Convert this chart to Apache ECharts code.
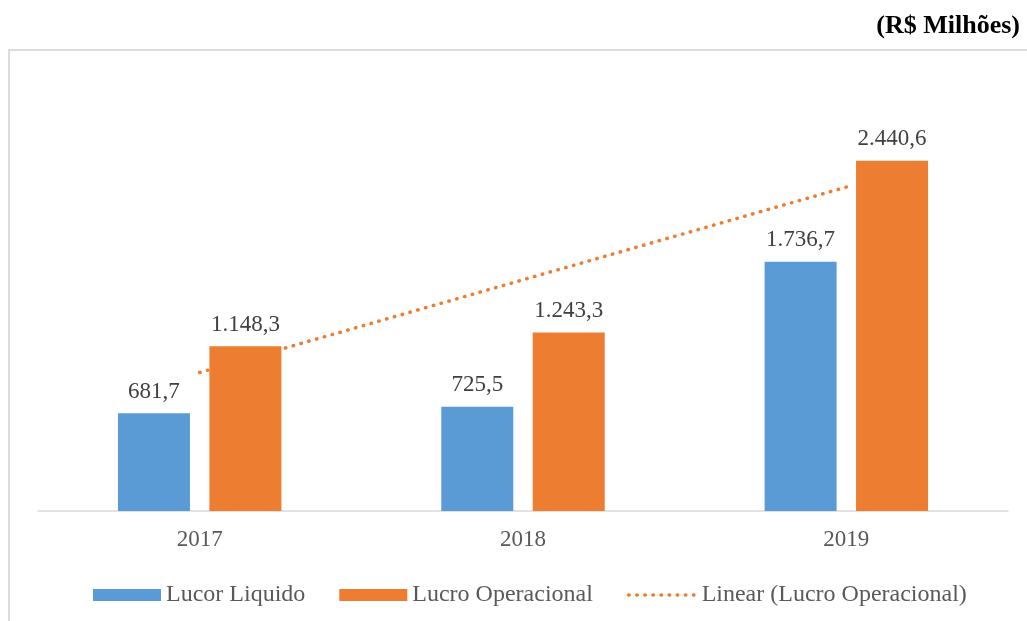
<!DOCTYPE html>
<html>
<head>
<meta charset="utf-8">
<script src="https://cdn.jsdelivr.net/npm/echarts@6/dist/echarts.min.js"></script>
<style>html,body{margin:0;padding:0;background:#fff}#c{width:1027px;height:621px}</style>
</head>
<body>
<div id="c"></div>
<script>
var categories = ['2017', '2018', '2019'];
var lucroLiquido = [681.7, 725.5, 1736.7];
var lucroOperacional = [1148.3, 1243.3, 2440.6];
var titleText = '(R$ Milhões)';
var seriesNames = ['Lucor Liquido', 'Lucro Operacional', 'Linear (Lucro Operacional)'];

// linear trendline (least squares) of Lucro Operacional
function linearTrend(vals) {
  var n = vals.length, sx = 0, sy = 0, sxy = 0, sxx = 0;
  for (var i = 0; i < n; i++) { var x = i + 1; sx += x; sy += vals[i]; sxy += x * vals[i]; sxx += x * x; }
  var b = (n * sxy - sx * sy) / (n * sxx - sx * sx);
  var a = (sy - b * sx) / n;
  return vals.map(function (_, i) { return a + b * (i + 1); });
}
var trend = linearTrend(lucroOperacional);

function fmt(v) {
  var parts = v.toFixed(1).split('.');
  var intPart = parts[0].replace(/\B(?=(\d{3})+(?!\d))/g, '.');
  return intPart + ',' + parts[1];
}

var FONT = '"Liberation Serif", "Times New Roman", serif';
var DOT = {color: '#ED7D31', width: 3.5, type: [0.5, 7.6], cap: 'round'};
var chart = echarts.init(document.getElementById('c'), null, {renderer: 'canvas'});
chart.setOption({
  animation: false,
  backgroundColor: '#fff',
  textStyle: {fontFamily: FONT},
  graphic: [
    {type: 'rect', shape: {x: 9, y: 50, width: 1030, height: 600}, style: {fill: 'none', stroke: '#dcdcdc', lineWidth: 2}, silent: true, z: -10},
    {type: 'text', right: 7, top: 13, style: {text: titleText, font: 'bold 26px ' + FONT, fill: '#000'}}
  ],
  grid: {left: 38, right: 19, top: 80.4, bottom: 110},
  legend: {
    left: 88, top: 578,
    itemWidth: 68, itemHeight: 12, itemGap: 34,
    textStyle: {fontFamily: FONT, fontSize: 24, color: '#595959'},
    data: [
      {name: seriesNames[0], icon: 'rect'},
      {name: seriesNames[1], icon: 'rect'},
      {name: seriesNames[2], lineStyle: DOT, itemStyle: {opacity: 0}}
    ]
  },
  xAxis: {
    type: 'category', data: categories,
    axisLine: {lineStyle: {color: '#d9d9d9', width: 1.5}},
    axisTick: {show: false},
    axisLabel: {fontFamily: FONT, fontSize: 23, color: '#595959', margin: 17}
  },
  yAxis: {type: 'value', min: 0, max: 3000, show: false, splitLine: {show: false}},
  series: [
    {
      name: seriesNames[0], type: 'bar', data: lucroLiquido, barWidth: 72, barGap: '27%', z: 3,
      itemStyle: {color: '#5B9BD5'},
      label: {show: true, position: 'top', distance: 10, fontFamily: FONT, fontSize: 23, color: '#404040', formatter: function (p) { return fmt(p.value); }}
    },
    {
      name: seriesNames[1], type: 'bar', data: lucroOperacional, barWidth: 72, z: 3,
      itemStyle: {color: '#ED7D31'},
      label: {show: true, position: 'top', distance: 10, fontFamily: FONT, fontSize: 23, color: '#404040', formatter: function (p) { return fmt(p.value); }}
    },
    {
      name: seriesNames[2], type: 'line', data: trend, z: 1, symbol: 'none', silent: true,
      lineStyle: DOT,
      itemStyle: {color: '#ED7D31'}
    }
  ]
});
</script>
</body>
</html>
